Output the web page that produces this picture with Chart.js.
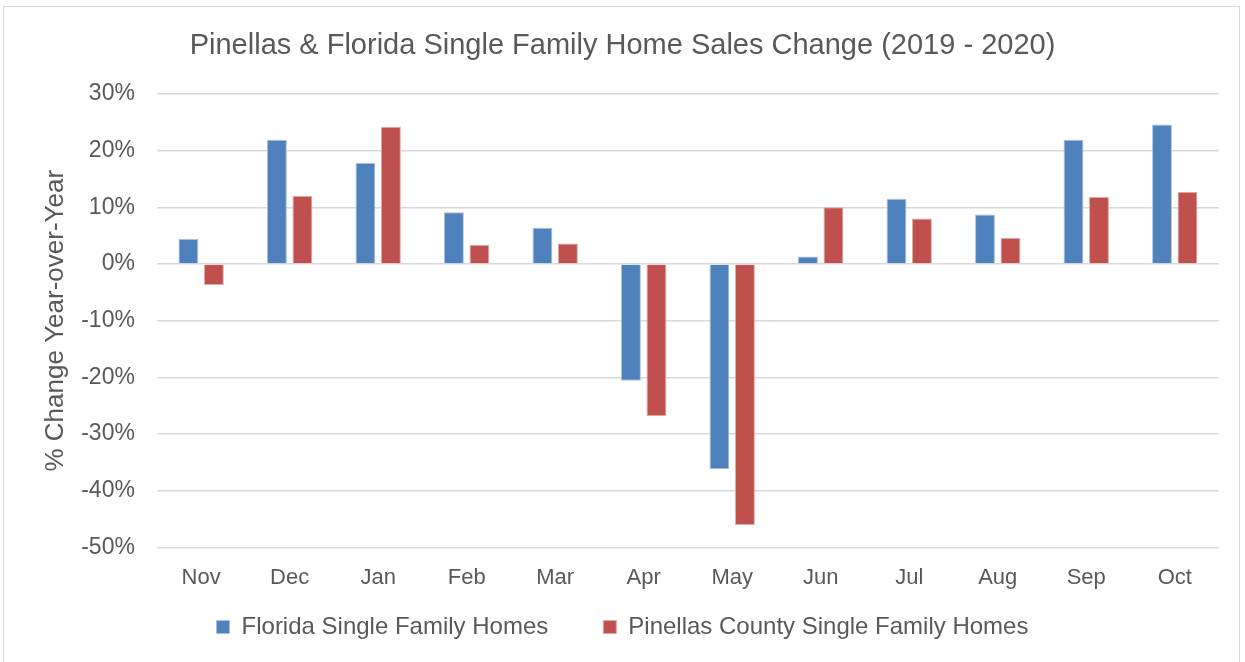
<!DOCTYPE html>
<html>
<head>
<meta charset="utf-8">
<script src="https://cdn.jsdelivr.net/npm/chart.js@4"></script>
<style>
    html, body { margin: 0; padding: 0; background: #fff; overflow: hidden; }
    #salesChart { position: absolute; left: 0; top: 0; display: block; }
    #frame {
        position: absolute; left: 3px; top: 6px; width: 1237px; height: 662px;
        border: 1px solid #d9d9d9; box-sizing: border-box; pointer-events: none;
    }
</style>
</head>
<body>
<canvas id="salesChart" width="1245" height="662"></canvas>
<div id="frame"></div>
<script>
const months = ['Nov', 'Dec', 'Jan', 'Feb', 'Mar', 'Apr', 'May', 'Jun', 'Jul', 'Aug', 'Sep', 'Oct'];
const floridaValues = [4.4, 21.9, 17.8, 9.1, 6.4, -20.6, -36.2, 1.3, 11.5, 8.7, 21.9, 24.6];
const pinellasValues = [-3.7, 12.0, 24.2, 3.4, 3.6, -26.8, -46.0, 10.0, 8.0, 4.6, 11.8, 12.7];
const yTicks = [30, 20, 10, 0, -10, -20, -30, -40, -50];

const textColor = '#595959';
const fontFamily = "'Liberation Sans', Arial, sans-serif";

// legend padding also sets the gap between items; pull the box up so the
// wide gap does not push the plot area up
const legendLift = 40;
const legendGap = {
    id: 'legendGap',
    beforeLayout(chart) {
        const legend = chart.legend;
        if (!legend || legend._gapPatched) return;
        const fit = legend.fit;
        legend.fit = function () {
            fit.call(this);
            this.height -= legendLift;
        };
        legend._gapPatched = true;
    },
    afterLayout(chart) {
        if (!chart.legend) return;
        chart.legend.top -= legendLift;
    }
};

const chartData = {
    labels: months,
    datasets: [{
        label: 'Florida Single Family Homes',
        data: floridaValues,
        backgroundColor: '#4F81BD',
        borderColor: '#a9c0de',
        borderWidth: 1,
        barPercentage: 0.78,
        categoryPercentage: 0.576
    }, {
        label: 'Pinellas County Single Family Homes',
        data: pinellasValues,
        backgroundColor: '#C0504D',
        borderColor: '#e0a8a6',
        borderWidth: 1,
        barPercentage: 0.78,
        categoryPercentage: 0.576
    }]
};

new Chart(document.getElementById('salesChart'), {
    type: 'bar',
    data: chartData,
    plugins: [legendGap],
    options: {
        responsive: false,
        animation: false,
        layout: { padding: { left: 26, right: 26, top: 0, bottom: 13 } },
        plugins: {
            title: {
                display: true,
                text: 'Pinellas & Florida Single Family Home Sales Change (2019 - 2020)',
                color: textColor,
                font: { family: fontFamily, size: 29, weight: 'normal' },
                padding: { top: 29, bottom: 30 }
            },
            legend: {
                position: 'bottom',
                labels: {
                    color: textColor,
                    font: { family: fontFamily, size: 24 },
                    boxWidth: 13,
                    boxHeight: 13,
                    padding: 55
                }
            },
            tooltip: { enabled: false }
        },
        scales: {
            x: {
                grid: { display: false },
                border: { display: false },
                ticks: {
                    color: textColor,
                    font: { family: fontFamily, size: 22 },
                    padding: 9
                }
            },
            y: {
                min: -50,
                max: 30,
                afterBuildTicks: axis => {
                    axis.ticks = yTicks.map(v => ({ value: v }));
                },
                grid: { color: '#d9d9d9', lineWidth: 1.5, drawTicks: false },
                border: { display: false },
                ticks: {
                    color: textColor,
                    font: { family: fontFamily, size: 23 },
                    padding: 22,
                    callback: value => value + '%'
                },
                title: {
                    display: true,
                    text: '% Change Year-over-Year',
                    color: textColor,
                    font: { family: fontFamily, size: 26 },
                    padding: { top: 14, bottom: -12 }
                }
            }
        }
    }
});
</script>
</body>
</html>
